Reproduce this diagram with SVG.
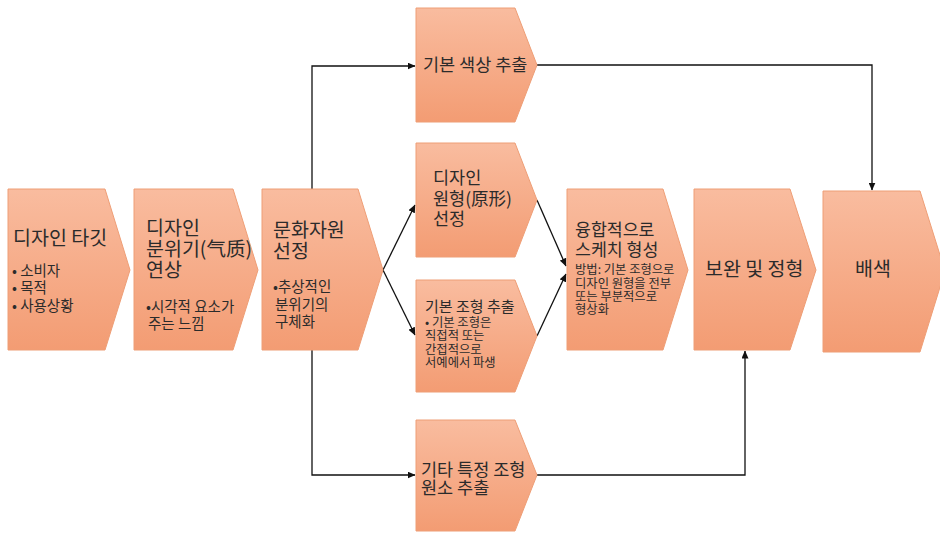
<svg xmlns="http://www.w3.org/2000/svg" width="940" height="533" viewBox="0 0 940 533">
<defs>
<linearGradient id="g" x1="0" y1="0" x2="0" y2="1">
<stop offset="0" stop-color="#F9BC9F"/>
<stop offset="1" stop-color="#F39C73"/>
</linearGradient>
<marker id="ah" markerWidth="8" markerHeight="7" refX="7.5" refY="3.5" orient="auto" markerUnits="userSpaceOnUse">
<path d="M0,0 L8,3.5 L0,7 z" fill="#111"/>
</marker>
<style>
.box{fill:url(#g);stroke:#EE9E76;stroke-width:1}
text{font-family:"Noto Sans CJK KR","Malgun Gothic",sans-serif;fill:#2b2b2b}
.t{font-size:19.5px}
.m{font-size:17.5px}
.s{font-size:14.5px}
.xs{font-size:12.3px}
.c{stroke:#111;stroke-width:1.3;fill:none;marker-end:url(#ah)}
</style>
</defs>
<rect width="940" height="533" fill="#fff"/>
<g id="connectors">
<path class="c" d="M312,189 V66 H415"/>
<path class="c" d="M312,350 V475 H415"/>
<path class="c" d="M383,270 L415,205"/>
<path class="c" d="M383,270 L415,335"/>
<path class="c" d="M537,200 L566,266"/>
<path class="c" d="M537,336 L566,274"/>
<path class="c" d="M537,65 H872 V190"/>
<path class="c" d="M537,475 H745 V351"/>
</g>
<g id="n1">
<polygon class="box" points="8,189 105,189 130,270 105,350 8,350"/>
<text class="t" x="13" y="245">디자인 타깃</text>
<text class="s"><tspan x="12" y="276">• 소비자</tspan><tspan x="12" y="293">• 목적</tspan><tspan x="12" y="311">• 사용상황</tspan></text>
</g>
<g id="n2">
<polygon class="box" points="134,189 233,189 258,270 233,350 134,350"/>
<text class="t"><tspan x="146" y="235">디자인</tspan><tspan x="146" y="256">분위기(气质)</tspan><tspan x="146" y="277">연상</tspan></text>
<text class="s"><tspan x="146" y="312">•시각적 요소가</tspan><tspan x="148" y="329">주는 느낌</tspan></text>
</g>
<g id="n3">
<polygon class="box" points="262,189 358,189 383,270 358,350 262,350"/>
<text class="t"><tspan x="273" y="237">문화자원</tspan><tspan x="273" y="258">선정</tspan></text>
<text class="s"><tspan x="273" y="292">•추상적인</tspan><tspan x="275" y="310">분위기의</tspan><tspan x="275" y="327">구체화</tspan></text>
</g>
<g id="n4">
<polygon class="box" points="416,8 515,8 537,65 515,122 416,122"/>
<text class="m" x="423" y="71">기본 색상 추출</text>
</g>
<g id="n5">
<polygon class="box" points="416,143 515,143 537,200 515,257 416,257"/>
<text class="m"><tspan x="433" y="184">디자인</tspan><tspan x="433" y="205">원형(原形)</tspan><tspan x="433" y="225">선정</tspan></text>
</g>
<g id="n6">
<polygon class="box" points="416,280 515,280 537,336 515,392 416,392"/>
<text style="font-size:15px" x="425" y="312">기본 조형 추출</text>
<text class="xs"><tspan x="425" y="327">• 기본 조형은</tspan><tspan x="425" y="340">직접적 또는</tspan><tspan x="425" y="354">간접적으로</tspan><tspan x="425" y="367">서예에서 파생</tspan></text>
</g>
<g id="n7">
<polygon class="box" points="416,420 515,420 537,475 515,531 416,531"/>
<text class="m"><tspan x="421" y="476">기타 특정 조형</tspan><tspan x="421" y="494">원소 추출</tspan></text>
</g>
<g id="n8">
<polygon class="box" points="567,189 663,189 688,270 663,350 567,350"/>
<text style="font-size:17.3px"><tspan x="575" y="236">융합적으로</tspan><tspan x="575" y="256">스케치 형성</tspan></text>
<text class="xs"><tspan x="575" y="274">방법: 기본 조형으로</tspan><tspan x="575" y="288">디자인 원형을 전부</tspan><tspan x="575" y="301">또는 부분적으로</tspan><tspan x="575" y="314">형상화</tspan></text>
</g>
<g id="n9">
<polygon class="box" points="694,189 790,189 816,270 790,350 694,350"/>
<text class="t" x="705" y="276">보완 및 정형</text>
</g>
<g id="n10">
<polygon class="box" points="823,191 920,191 945,271 920,352 823,352"/>
<text class="t" x="855" y="276">배색</text>
</g>
</svg>
